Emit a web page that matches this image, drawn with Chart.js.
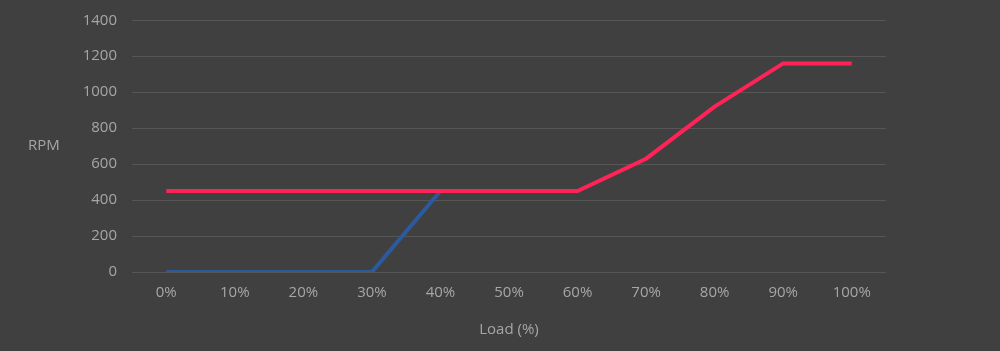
<!DOCTYPE html>
<html>
<head>
<meta charset="utf-8">
<script src="https://cdn.jsdelivr.net/npm/chart.js@4/dist/chart.umd.min.js"></script>
<style>
  html, body { margin: 0; padding: 0; background: #404040; }
  #wrap { position: relative; width: 1000px; height: 351px; }
  #rpm { position: absolute; left: 28px; top: 134px; color: #a6a6a6;
         font: 15px "Open Sans", sans-serif; }
</style>
</head>
<body>
<div id="wrap">
  <canvas id="fanChart" width="1000" height="351"></canvas>
  <div id="rpm">RPM</div>
</div>
<script>
// datos
const loadLabels = ['0%', '10%', '20%', '30%', '40%', '50%', '60%', '70%', '80%', '90%', '100%'];
const blueRpm = [0, 0, 0, 0, 450, null, null, null, null, null, null];
const redRpm = [450, 450, 450, 450, 450, 450, 450, 630, 920, 1160, 1160];
const yTicks = [0, 200, 400, 600, 800, 1000, 1200, 1400];

const textColor = '#a6a6a6';
const gridColor = '#565656';
const tickFont = { family: 'Open Sans', size: 15 };

const ctx = document.getElementById('fanChart').getContext('2d');
new Chart(ctx, {
    type: 'line',
    data: {
        labels: loadLabels,
        datasets: [
            { data: redRpm, borderColor: '#ff2357', borderWidth: 4, pointRadius: 0, tension: 0, order: 1 },
            { data: blueRpm, borderColor: '#2c5a9e', borderWidth: 4, pointRadius: 0, tension: 0, order: 2 }
        ]
    },
    options: {
        responsive: false,
        animation: false,
        layout: { padding: { left: 0, right: 114, top: 0, bottom: 12 } },
        plugins: { legend: { display: false }, tooltip: { enabled: false } },
        scales: {
            x: {
                offset: true,
                grid: { display: false, drawTicks: false },
                border: { display: false },
                ticks: { color: textColor, font: tickFont, padding: 12, maxRotation: 0 },
                title: { display: true, text: 'Load (%)', color: textColor,
                         font: tickFont, padding: { top: 7, bottom: 0 } }
            },
            y: {
                min: 0,
                max: 1400,
                afterBuildTicks: axis => { axis.ticks = yTicks.map(v => ({ value: v })); },
                afterFit: axis => { axis.width = 132; },
                grid: { color: gridColor, lineWidth: 1, drawTicks: false },
                border: { display: false },
                ticks: { color: textColor, font: { family: 'Open Sans', size: 15, lineHeight: 0.7 },
                         padding: 15, callback: v => String(v) }
            }
        }
    }
});
</script>
</body>
</html>
